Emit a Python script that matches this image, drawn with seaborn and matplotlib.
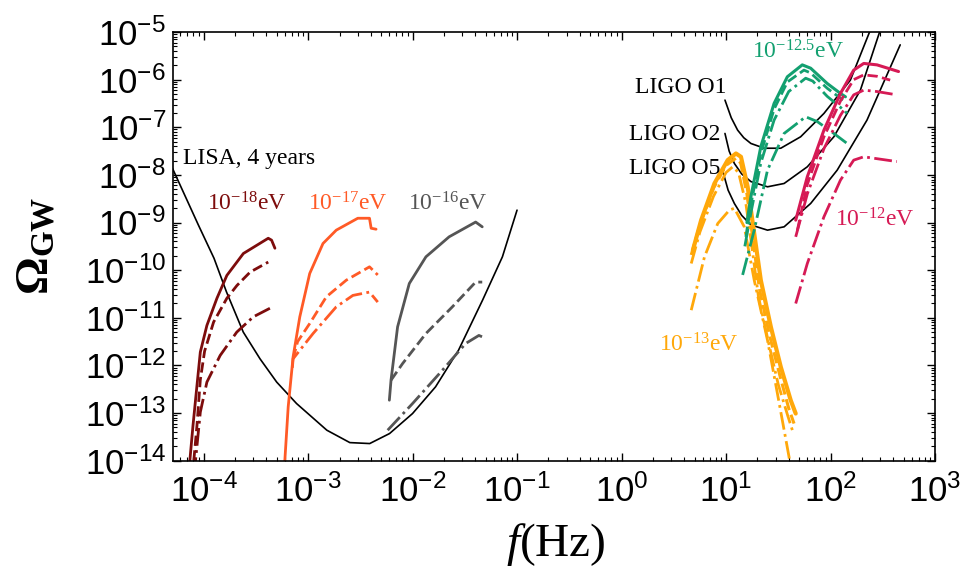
import numpy as np
import seaborn as sns
import matplotlib.pyplot as plt
from matplotlib.ticker import NullFormatter

# values, stored as log10(f/Hz) and log10(Omega_GW)
lisa_f = [-4.30, -4.05, -3.90, -3.78, -3.62, -3.46, -3.30, -3.11, -2.82, -2.60,
          -2.41, -2.22, -2.0, -1.78, -1.56, -1.33, -1.14, -1.0]
lisa_o = [-7.85, -9.05, -9.75, -10.46, -11.30, -11.86, -12.35, -12.80, -13.36, -13.62,
          -13.64, -13.43, -13.01, -12.45, -11.68, -10.63, -9.72, -8.74]

o1_f = [0.99, 1.05, 1.111, 1.17, 1.238, 1.366, 1.524, 1.714, 1.937, 2.190, 2.381]
o1_o = [-6.43, -6.80, -7.06, -7.22, -7.34, -7.44, -7.44, -7.20, -6.71, -6.01, -4.96]
o2_f = [0.99, 1.03, 1.080, 1.15, 1.238, 1.397, 1.556, 1.778, 2.032, 2.286, 2.476]
o2_o = [-7.13, -7.50, -7.76, -7.98, -8.14, -8.25, -8.18, -7.83, -7.20, -6.22, -4.96]
o5_f = [0.97, 1.02, 1.080, 1.15, 1.238, 1.397, 1.556, 1.810, 2.064, 2.349, 2.667]
o5_o = [-7.93, -8.32, -8.60, -8.85, -9.05, -9.16, -9.09, -8.60, -7.90, -6.85, -5.27]

# 1e-18 eV
m18_solid_f = [-4.145, -4.133, -4.101, -4.063, -4.031, -3.968, -3.872, -3.777, -3.619, -3.381, -3.349, -3.317]
m18_solid_o = [-14.3, -14.04, -13.26, -12.42, -11.72, -11.16, -10.59, -10.11, -9.65, -9.33, -9.37, -9.54]
m18_dash_f = [-4.12, -4.095, -4.063, -4.031, -3.990, -3.904, -3.777, -3.680, -3.554, -3.381]
m18_dash_o = [-14.3, -14.04, -13.26, -12.30, -11.70, -11.09, -10.59, -10.32, -10.04, -9.83]
m18_dd_f = [-4.09, -4.079, -4.031, -3.968, -3.841, -3.682, -3.524, -3.365]
m18_dd_o = [-14.3, -14.04, -12.98, -12.35, -11.79, -11.30, -10.98, -10.80]

# 1e-17 eV
m17_solid_f = [-3.226, -3.222, -3.190, -3.143, -3.079, -2.984, -2.857, -2.730, -2.524, -2.412, -2.396, -2.349]
m17_solid_o = [-14.3, -13.99, -12.87, -11.82, -10.98, -10.07, -9.44, -9.16, -8.91, -8.91, -9.12, -9.14]
m17_dash_f = [-3.143, -3.10, -2.984, -2.825, -2.634, -2.412, -2.333]
m17_dash_o = [-11.86, -11.50, -11.12, -10.56, -10.21, -9.93, -10.10]
m17_dd_f = [-3.150, -3.143, -2.952, -2.730, -2.571, -2.412, -2.333]
m17_dd_o = [-12.05, -11.86, -11.33, -10.77, -10.53, -10.46, -10.67]

# 1e-16 eV
m16_solid_f = [-2.222, -2.206, -2.143, -2.031, -1.872, -1.650, -1.396, -1.333]
m16_solid_o = [-12.73, -12.31, -11.19, -10.28, -9.72, -9.30, -8.99, -9.09]
m16_dash_f = [-2.206, -2.095, -1.872, -1.619, -1.396, -1.333]
m16_dash_o = [-12.31, -11.96, -11.33, -10.77, -10.25, -10.25]
m16_dd_f = [-2.238, -2.0, -1.714, -1.492, -1.365, -1.333]
m16_dd_o = [-13.36, -12.80, -12.10, -11.54, -11.37, -11.40]

# 1e-13 eV
m13_solid_f = [0.683, 0.762, 0.889, 1.016, 1.095, 1.143, 1.207, 1.270, 1.333, 1.429, 1.524, 1.619, 1.667]
m13_solid_o = [-9.58, -8.95, -8.18, -7.69, -7.55, -7.62, -8.25, -9.23, -10.21, -11.19, -12.03, -12.73, -13.01]
m13_dash_f = [0.667, 0.75, 0.88, 1.0, 1.095, 1.14, 1.20, 1.26, 1.32, 1.42, 1.52, 1.60, 1.651]
m13_dash_o = [-9.68, -9.05, -8.28, -7.80, -7.65, -7.75, -8.40, -9.40, -10.40, -11.40, -12.25, -12.90, -13.22]
m13_dd_f = [0.667, 0.75, 0.88, 1.0, 1.064, 1.12, 1.19, 1.25, 1.31, 1.41, 1.50, 1.59, 1.635]
m13_dd_o = [-9.86, -9.20, -8.45, -7.95, -7.83, -7.95, -8.60, -9.55, -10.55, -11.55, -12.40, -13.05, -13.36]
m13_low_f = [0.667, 0.794, 0.921, 1.032, 1.080, 1.175, 1.270, 1.397, 1.492, 1.603, 1.62]
m13_low_o = [-10.84, -9.72, -9.02, -8.74, -8.70, -9.09, -10.21, -11.47, -12.59, -13.92, -14.2]

# 1e-12.5 eV
m125_solid_f = [1.20, 1.238, 1.333, 1.460, 1.587, 1.730, 1.810, 1.968, 2.095, 2.143]
m125_solid_o = [-9.0, -8.46, -7.41, -6.50, -5.94, -5.69, -5.76, -6.08, -6.29, -6.36]
m125_dash_f = [1.19, 1.238, 1.333, 1.460, 1.587, 1.746, 1.81, 1.968, 2.095, 2.143]
m125_dash_o = [-9.3, -8.62, -7.55, -6.62, -6.05, -5.80, -5.86, -6.18, -6.39, -6.46]
m125_dd_f = [1.18, 1.238, 1.333, 1.460, 1.600, 1.762, 1.83, 1.968, 2.095, 2.159]
m125_dd_o = [-9.5, -8.80, -7.75, -6.85, -6.25, -5.97, -6.03, -6.35, -6.58, -6.71]
m125_low_f = [1.159, 1.270, 1.397, 1.556, 1.762, 1.873, 2.032, 2.159]
m125_low_o = [-10.10, -9.16, -7.90, -7.13, -6.78, -6.88, -7.13, -7.34]

# 1e-12 eV
m12_solid_f = [1.667, 1.778, 1.937, 2.095, 2.222, 2.318, 2.445, 2.651]
m12_solid_o = [-8.95, -8.04, -7.06, -6.29, -5.80, -5.66, -5.69, -5.83]
m12_dash_f = [1.683, 1.778, 1.937, 2.095, 2.222, 2.318, 2.445, 2.571]
m12_dash_o = [-9.16, -8.20, -7.20, -6.45, -6.00, -5.90, -5.93, -6.01]
m12_dd_f = [1.667, 1.778, 1.937, 2.095, 2.222, 2.318, 2.445, 2.635]
m12_dd_o = [-9.30, -8.40, -7.45, -6.75, -6.32, -6.22, -6.25, -6.32]
m12_low_f = [1.667, 1.778, 1.937, 2.095, 2.222, 2.318, 2.445, 2.635]
m12_low_o = [-10.70, -9.86, -8.88, -8.11, -7.69, -7.62, -7.66, -7.72]

x_decades = np.arange(-4, 4)
y_decades = np.arange(-14, -4)

sns.set_style('ticks')
plt.rcParams['font.family'] = ['Liberation Sans', 'DejaVu Sans']
plt.rcParams['mathtext.fontset'] = 'custom'
plt.rcParams['mathtext.rm'] = 'Liberation Serif'
plt.rcParams['mathtext.it'] = 'Liberation Serif:italic'
plt.rcParams['mathtext.bf'] = 'Liberation Serif:bold'
plt.rcParams['text.color'] = 'black'
plt.rcParams['xtick.color'] = 'black'
plt.rcParams['ytick.color'] = 'black'

fig = plt.figure(figsize=(9.67, 5.75), dpi=100)
ax = fig.add_axes([173/967, 1 - 460.7/575, 762/967, 428.7/575])
ax.set_xscale('log')
ax.set_yscale('log')


def curve(lf, lo, color, ls='-', lw=1.8):
    sns.lineplot(x=10**np.array(lf), y=10**np.array(lo), ax=ax, color=color,
                 linestyle=ls, linewidth=lw, sort=False, estimator=None)


maroon = '#7d0c0c'
orred = '#ff5a26'
grey = '#555555'
orange = '#ffa80a'
green = '#13a070'
crimson = '#d61a55'

curve(lisa_f, lisa_o, 'black', lw=1.2)
for lf, lo in [(o1_f, o1_o), (o2_f, o2_o), (o5_f, o5_o)]:
    curve(lf, lo, 'black', lw=1.2)

curve(m18_solid_f, m18_solid_o, maroon, lw=2.0)
curve(m18_dash_f, m18_dash_o, maroon, '--', 2.0)
curve(m18_dd_f, m18_dd_o, maroon, '-.', 2.0)
curve(m17_solid_f, m17_solid_o, orred, lw=2.0)
curve(m17_dash_f, m17_dash_o, orred, '--', 2.0)
curve(m17_dd_f, m17_dd_o, orred, '-.', 2.0)
curve(m16_solid_f, m16_solid_o, grey, lw=2.0)
curve(m16_dash_f, m16_dash_o, grey, '--', 2.0)
curve(m16_dd_f, m16_dd_o, grey, '-.', 2.0)

curve(m13_low_f, m13_low_o, orange, '-.', 2.0)
curve(m13_dd_f, m13_dd_o, orange, '-.', 2.0)
curve(m13_dash_f, m13_dash_o, orange, '--', 2.2)
curve(m13_solid_f, m13_solid_o, orange, lw=3.0)

curve(m125_low_f, m125_low_o, green, '-.', 2.0)
curve(m125_dd_f, m125_dd_o, green, '-.', 2.0)
curve(m125_dash_f, m125_dash_o, green, '--', 2.0)
curve(m125_solid_f, m125_solid_o, green, lw=2.2)

curve(m12_low_f, m12_low_o, crimson, '-.', 2.0)
curve(m12_dd_f, m12_dd_o, crimson, '-.', 2.0)
curve(m12_dash_f, m12_dash_o, crimson, '--', 2.0)
curve(m12_solid_f, m12_solid_o, crimson, lw=2.2)

# only ticks inside the visible range
ax.set_xticks(10.0**x_decades)
ax.set_yticks(10.0**y_decades)
xminor = np.concatenate([np.arange(2, 10) * 10.0**d for d in range(-5, 3)])
yminor = np.concatenate([np.arange(2, 10) * 10.0**d for d in range(-14, -5)])
ax.set_xticks(xminor[(xminor > 5.1e-5) & (xminor < 1e3)], minor=True)
ax.set_yticks(yminor, minor=True)
ax.xaxis.set_minor_formatter(NullFormatter())
ax.yaxis.set_minor_formatter(NullFormatter())
ax.set_xlim(5.1e-5, 1e3)
ax.set_ylim(1e-14, 1e-5)
ax.tick_params(which='both', direction='in', top=True, right=True, color='black')
ax.tick_params(which='major', length=6, width=1.0, labelsize=25, labelcolor='black')
ax.tick_params(axis='x', which='major', pad=10)
ax.tick_params(axis='y', which='major', pad=5)
ax.tick_params(which='minor', length=3, width=0.8)
for sp in ax.spines.values():
    sp.set_linewidth(1.2)
    sp.set_color('black')

serif = ['Liberation Serif', 'DejaVu Serif']
lab = dict(family=serif, fontsize=17)
ax.text(6.4e-5, 10**-7.65, 'LISA, 4 years', va='center', color='black', **lab)
ax.text(10**-3.965, 10**-8.74, r'$\mathdefault{10^{-18}}$eV', color=maroon, **lab)
ax.text(10**-2.997, 10**-8.74, r'$\mathdefault{10^{-17}}$eV', color=orred, **lab)
ax.text(10**-2.041, 10**-8.74, r'$\mathdefault{10^{-16}}$eV', color=grey, **lab)
ax.text(10**1.253, 10**-5.55, r'$\mathdefault{10^{-12.5}}$eV', color=green, **lab)
ax.text(10**2.043, 10**-9.09, r'$\mathdefault{10^{-12}}$eV', color=crimson, **lab)
ax.text(10**0.362, 10**-11.70, r'$\mathdefault{10^{-13}}$eV', color=orange, **lab)
ax.text(10**0.133, 10**-6.29, 'LIGO O1', color='black', **lab)
ax.text(10**0.069, 10**-7.27, 'LIGO O2', color='black', **lab)
ax.text(10**0.069, 10**-7.98, 'LIGO O5', color='black', **lab)

fig.text(556/967, 1 - 545/575, r'$f$(Hz)', family=serif, fontsize=34,
         ha='center', va='center')
fig.text(37/967, 1 - 246/575, r'$\mathbf{\Omega}_{\mathbf{GW}}$', family=serif,
         fontsize=34, rotation=90, ha='center', va='center')

fig.savefig('out.png', dpi=100)
